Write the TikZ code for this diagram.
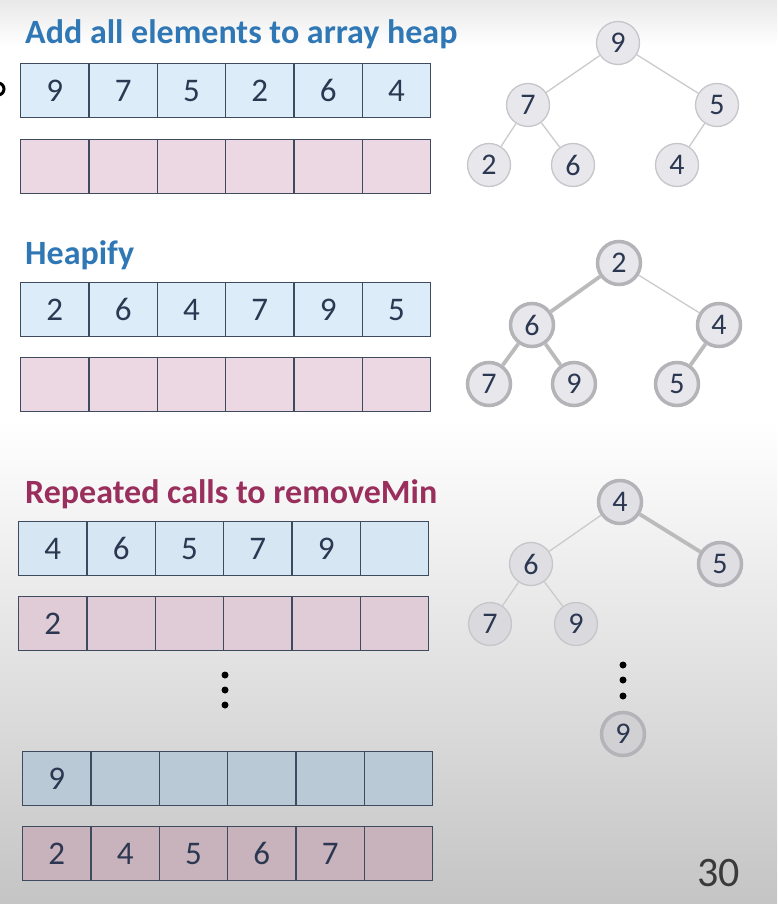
\documentclass[tikz,border=0pt]{standalone}
\usepackage{fontspec}
\setmainfont{Carlito}
\definecolor{tblue}{HTML}{2F78B5}
\definecolor{tred}{HTML}{9A2E5C}
\definecolor{cellfg}{HTML}{2C3852}
\definecolor{cellborder}{HTML}{3E4A5E}
\definecolor{blueA}{HTML}{DCECF9}
\definecolor{pinkA}{HTML}{EBD8E3}
\definecolor{blueB}{HTML}{D7E6F3}
\definecolor{pinkB}{HTML}{DFCCD6}
\definecolor{blueC}{HTML}{B9C9D6}
\definecolor{pinkC}{HTML}{C8B2BB}
\definecolor{nodefill}{HTML}{E8E8EC}
\definecolor{nodeborder}{HTML}{C6C6CA}
\definecolor{thickborder}{HTML}{B4B4B8}
\definecolor{edgecol}{HTML}{CBCBCB}
\definecolor{edgethick}{HTML}{BBBBBB}
\definecolor{pagenum}{HTML}{3A3A3A}
\newcommand\arrrow[5]{\foreach \v [count=\i] in {#5}{\node[cell, fill=#4] (#1-\i) at ({#2+(\i-1)*68.33},#3) {\v};}}
\begin{document}
\begin{tikzpicture}[x=1pt,y=-1pt,
 cell/.style={draw=cellborder, line width=1.3pt, minimum width=68.33pt, minimum height=54pt, inner sep=0pt, anchor=north west, font=\fontsize{33}{33}\selectfont, text=cellfg},
 hn/.style={circle, draw=nodeborder, line width=1.3pt, fill=nodefill, minimum size=43pt, inner sep=0pt, font=\fontsize{30}{30}\selectfont, text=cellfg},
 hnb/.style={hn, draw=thickborder, line width=3.5pt},
 te/.style={draw=edgecol, line width=1.3pt},
 teb/.style={draw=edgethick, line width=3.8pt},
 title/.style={anchor=base west, inner sep=0pt, font=\fontsize{34}{34}\selectfont\bfseries},
 dot/.style={circle, fill=black, inner sep=0pt, minimum size=7pt}]
\useasboundingbox (0,0) rectangle (777,904);
% background
\fill[white] (0,0) rectangle (777,904);
\shade[top color=black!9, bottom color=white] (0,0) rectangle (777,45);
\shade[top color=white, bottom color=black!23] (0,420) rectangle (777,904);
% cut-off mark at the left edge
\draw[line width=3pt, black] (-2,89) circle (6);
% titles
\node[title, text=tblue] (h1) at (25,44) {Add all elements to array heap};
\node[title, text=tblue] (h2) at (25,264) {Heapify};
\node[title, text=tred] (h3) at (25,503) {Repeated calls to removeMin};
% arrays
\arrrow{ra}{20}{63}{blueA}{9,7,5,2,6,4}
\arrrow{rb}{20}{139}{pinkA}{{},{},{},{},{},{}}
\arrrow{rc}{20}{282}{blueA}{2,6,4,7,9,5}
\arrrow{rd}{20}{357}{pinkA}{{},{},{},{},{},{}}
\arrrow{re}{18}{521}{blueB}{4,6,5,7,9,{}}
\arrrow{rf}{18}{596}{pinkB}{2,{},{},{},{},{}}
\arrrow{rg}{22}{751}{blueC}{9,{},{},{},{},{}}
\arrrow{rh}{22}{826}{pinkC}{2,4,5,6,7,{}}
% left dots
\node[dot] (ld1) at (225,675) {};
\node[dot] (ld2) at (225,690) {};
\node[dot] (ld3) at (225,705) {};
% tree 1
\node[hn] (t1a) at (618,43) {9};
\node[hn] (t1b) at (528,105) {7};
\node[hn] (t1c) at (717,105) {5};
\node[hn] (t1d) at (489,165) {2};
\node[hn] (t1e) at (573,165) {6};
\node[hn] (t1f) at (677,165) {4};
\draw[te] (t1a) -- (t1b);
\draw[te] (t1a) -- (t1c);
\draw[te] (t1b) -- (t1d);
\draw[te] (t1b) -- (t1e);
\draw[te] (t1c) -- (t1f);
% tree 2
\node[hnb] (t2a) at (619,263) {2};
\node[hnb] (t2b) at (532,325) {6};
\node[hnb] (t2c) at (719,325) {4};
\node[hnb] (t2d) at (489,384) {7};
\node[hnb] (t2e) at (574,384) {9};
\node[hnb] (t2f) at (677,384) {5};
\draw[teb] (t2a) -- (t2b);
\draw[te] (t2a) -- (t2c);
\draw[teb] (t2b) -- (t2d);
\draw[teb] (t2b) -- (t2e);
\draw[teb] (t2c) -- (t2f);
% tree 3
\node[hnb, fill=nodefill!97!black] (t3a) at (620,502) {4};
\node[hn, fill=nodefill!96!black] (t3b) at (531,564) {6};
\node[hnb, fill=nodefill!96!black] (t3c) at (720,564) {5};
\node[hn, fill=nodefill!94!black] (t3d) at (490,624) {7};
\node[hn, fill=nodefill!94!black] (t3e) at (576,624) {9};
\node[hnb, fill=nodefill!90!black] (t3g) at (623,734) {9};
\draw[te] (t3a) -- (t3b);
\draw[teb] (t3a) -- (t3c);
\draw[te] (t3b) -- (t3d);
\draw[te] (t3b) -- (t3e);
\node[dot] (rd1) at (623,665) {};
\node[dot] (rd2) at (623,680) {};
\node[dot] (rd3) at (623,696) {};
% page number
\node[anchor=base west, inner sep=0pt, text=pagenum, font=\fontsize{42}{42}\selectfont] (pn) at (697,886) {30};
\end{tikzpicture}
\end{document}
